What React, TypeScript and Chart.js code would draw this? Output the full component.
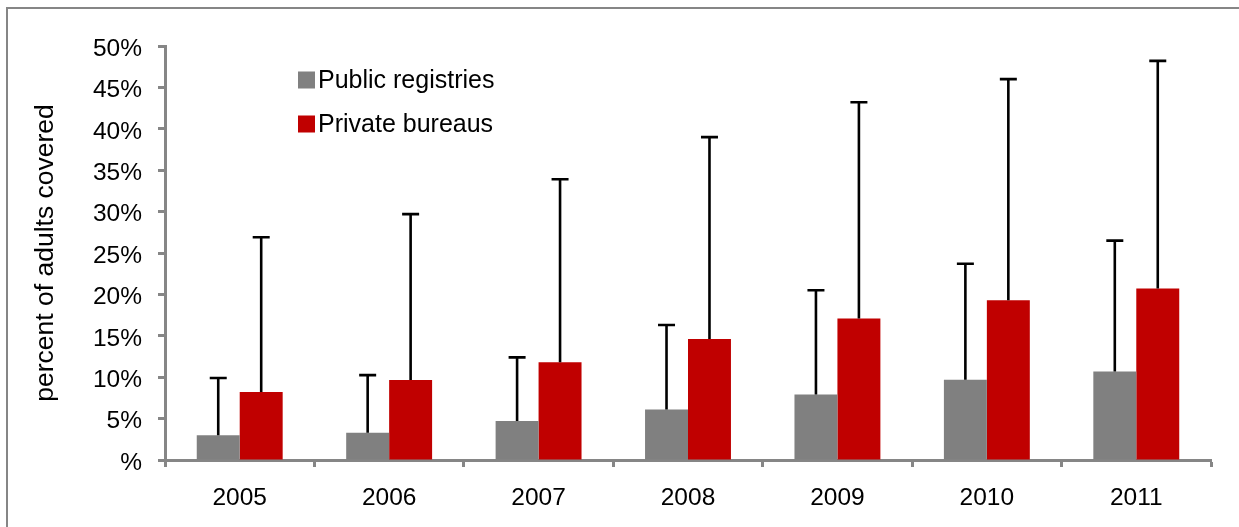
import React, { useEffect, useRef } from "react";
import { Chart, registerables } from "chart.js";

Chart.register(...registerables);

const years = ["2005", "2006", "2007", "2008", "2009", "2010", "2011"];
const publicRegistries = [3.0, 3.3, 4.7, 6.1, 7.9, 9.7, 10.7];
const publicUpper = [9.9, 10.25, 12.4, 16.3, 20.5, 23.7, 26.5];
const privateBureaus = [8.2, 9.65, 11.8, 14.6, 17.1, 19.3, 20.7];
const privateUpper = [26.9, 29.7, 33.9, 39.0, 43.2, 46.0, 48.2];
const upperBounds = [publicUpper, privateUpper];

const FONT = "'Liberation Sans', Arial, sans-serif";
const AXIS_GRAY = "#868686";

const framePlugin = {
  id: "frame",
  beforeDraw(chart: any) {
    const ctx = chart.ctx;
    ctx.save();
    ctx.fillStyle = "#ffffff";
    ctx.fillRect(0, 0, chart.width, chart.height);
    ctx.fillStyle = AXIS_GRAY;
    ctx.fillRect(6, 7, 2, chart.height);
    ctx.fillRect(6, 7, chart.width, 2);
    ctx.restore();
  },
};

const errorBarPlugin = {
  id: "errorBars",
  afterDatasetsDraw(chart: any) {
    const ctx = chart.ctx;
    const yScale = chart.scales.y;
    ctx.save();
    ctx.strokeStyle = "#000000";
    ctx.lineWidth = 2.6;
    chart.data.datasets.forEach((_ds: any, i: number) => {
      const meta = chart.getDatasetMeta(i);
      meta.data.forEach((el: any, j: number) => {
        const x = el.x;
        const yTop = el.y;
        const yErr = yScale.getPixelForValue(upperBounds[i][j]);
        ctx.beginPath();
        ctx.moveTo(x, yTop);
        ctx.lineTo(x, yErr);
        ctx.moveTo(x - 8.5, yErr);
        ctx.lineTo(x + 8.5, yErr);
        ctx.stroke();
      });
    });
    ctx.restore();
  },
};

const legendPlugin = {
  id: "customLegend",
  afterDraw(chart: any) {
    const ctx = chart.ctx;
    ctx.save();
    ctx.font = `25px ${FONT}`;
    ctx.textBaseline = "middle";
    ctx.textAlign = "left";
    const rows = [80, 124];
    chart.data.datasets.forEach((ds: any, i: number) => {
      const cy = rows[i];
      ctx.fillStyle = ds.backgroundColor;
      ctx.fillRect(298, cy - 8.5, 17, 17);
      ctx.fillStyle = "#000000";
      ctx.fillText(ds.label, 318, cy + 1);
    });
    ctx.restore();
  },
};

export default function App() {
  const ref = useRef<HTMLCanvasElement | null>(null);
  useEffect(() => {
    if (!ref.current) return;
    const chart = new Chart(ref.current, {
      type: "bar",
      data: {
        labels: years,
        datasets: [
          {
            label: "Public registries",
            data: publicRegistries,
            backgroundColor: "#808080",
            borderWidth: 0,
            categoryPercentage: 0.575,
            barPercentage: 1,
          },
          {
            label: "Private bureaus",
            data: privateBureaus,
            backgroundColor: "#c00000",
            borderWidth: 0,
            categoryPercentage: 0.575,
            barPercentage: 1,
          },
        ],
      },
      options: {
        responsive: false,
        animation: false,
        layout: { padding: { top: 46, right: 28, bottom: 0, left: 0 } },
        plugins: {
          legend: { display: false },
          tooltip: { enabled: false },
        },
        scales: {
          x: {
            grid: {
              display: true,
              drawOnChartArea: false,
              drawTicks: true,
              tickLength: 7,
              tickWidth: 3,
              color: AXIS_GRAY,
              offset: true,
            },
            border: { display: true, color: AXIS_GRAY, width: 3 },
            ticks: {
              color: "#000000",
              font: { family: FONT, size: 24.5 },
              padding: 17,
              maxRotation: 0,
            },
            afterFit(scale: any) {
              scale.height = 67;
            },
          },
          y: {
            min: 0,
            max: 50,
            grid: {
              display: true,
              drawOnChartArea: false,
              drawTicks: true,
              tickLength: 7,
              tickWidth: 3,
              color: AXIS_GRAY,
            },
            border: { display: true, color: AXIS_GRAY, width: 3 },
            ticks: {
              stepSize: 5,
              color: "#000000",
              font: { family: FONT, size: 24.5 },
              padding: 16,
              labelOffset: 3,
              callback: (v: any) => (Number(v) === 0 ? "%" : `${v}%`),
            },
            title: {
              display: true,
              text: "percent of adults covered",
              color: "#000000",
              font: { family: FONT, size: 26.5 },
              padding: { top: 30, bottom: 0 },
            },
            afterFit(scale: any) {
              scale.width = 165;
            },
          },
        },
      },
      plugins: [framePlugin, errorBarPlugin, legendPlugin],
    });
    return () => chart.destroy();
  }, []);
  return (
    <div style={{ position: "absolute", left: 0, top: 0, width: 1239, height: 527 }}>
      <canvas ref={ref} width={1239} height={527} />
    </div>
  );
}
